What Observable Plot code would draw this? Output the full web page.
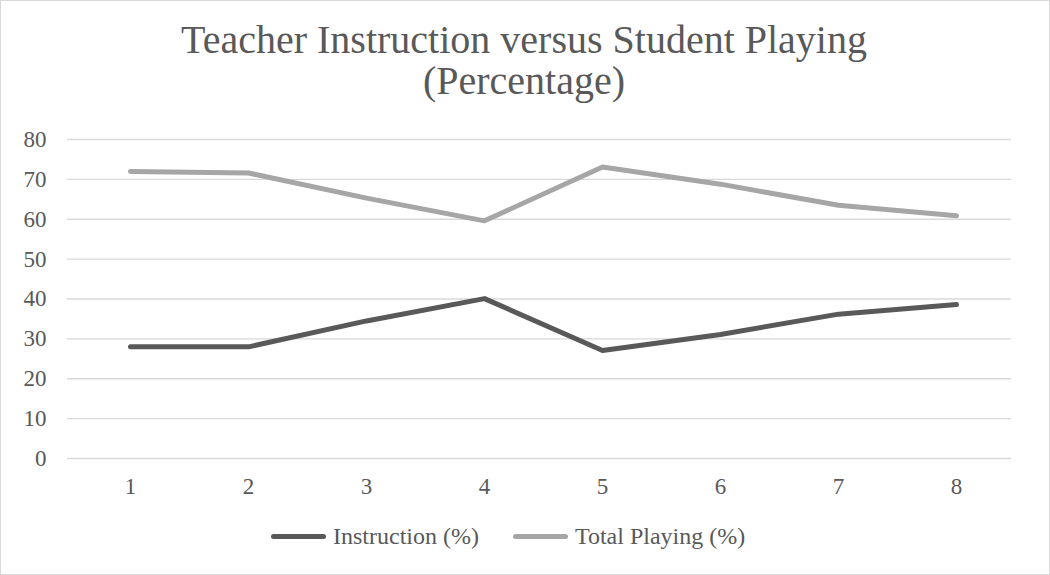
<!DOCTYPE html>
<html>
<head>
<meta charset="utf-8">
<script src="https://cdn.jsdelivr.net/npm/d3@7"></script>
<script src="https://cdn.jsdelivr.net/npm/@observablehq/plot@0.6"></script>
<style>
  html, body { margin: 0; padding: 0; background: #fff; }
  #frame { position: absolute; left: 0; top: 0; width: 1048px; height: 573px; border: 1px solid #d9d9d9; background: #fff; overflow: hidden; }
  #title { position: absolute; left: 0; top: 19px; width: 1046px; text-align: center; font-family: "Liberation Serif", "Times New Roman", serif; font-size: 40px; line-height: 40.7px; color: #595959; }
  #chart { position: absolute; left: 0; top: 118px; }
  #legend { position: absolute; left: 270px; top: 520px; display: flex; gap: 34px; font-family: "Liberation Serif", "Times New Roman", serif; font-size: 24px; line-height: 30px; color: #595959; white-space: nowrap; }
  .item { display: flex; align-items: center; }
  .swatch { width: 55px; height: 5px; border-radius: 3px; margin-right: 7px; }
</style>
</head>
<body>
<div id="frame">
  <div id="title">Teacher Instruction versus Student Playing<br>(Percentage)</div>
  <div id="chart"></div>
  <div id="legend"></div>
</div>
<script>
const sessions = [1, 2, 3, 4, 5, 6, 7, 8];
const instruction = [28.0, 28.0, 34.5, 40.1, 27.1, 31.1, 36.2, 38.6];
const totalPlaying = [72.0, 71.6, 65.3, 59.6, 73.1, 68.8, 63.5, 60.9];
const seriesNames = ["Instruction (%)", "Total Playing (%)"];
const seriesColors = ["#595959", "#a6a6a6"];
const yTicks = [0, 10, 20, 30, 40, 50, 60, 70, 80];

const rows = [];
sessions.forEach((s, i) => {
  rows.push({session: s, value: instruction[i], series: seriesNames[0]});
  rows.push({session: s, value: totalPlaying[i], series: seriesNames[1]});
});

const chart = Plot.plot({
  width: 1048,
  height: 390,
  marginTop: 20,
  marginBottom: 51,
  marginLeft: 66,
  marginRight: 38,
  style: { fontFamily: "'Liberation Serif', 'Times New Roman', serif", fontSize: "23px", color: "#595959", background: "transparent" },
  x: { type: "point", domain: sessions, padding: 0, range: [126, 957], label: null },
  y: { domain: [0, 80], ticks: yTicks, label: null },
  color: { domain: seriesNames, range: seriesColors },
  marks: [
    Plot.ruleY(yTicks, { stroke: "#d9d9d9", strokeWidth: 1.3 }),
    Plot.axisX({ tickSize: 0, tickPadding: 19, fill: "#595959", fontSize: 23 }),
    Plot.axisY({ ticks: yTicks, tickSize: 0, tickPadding: 21, fill: "#595959", fontSize: 23 }),
    Plot.line(rows, { x: "session", y: "value", stroke: "series", z: "series", strokeWidth: 5, strokeLinecap: "round", strokeLinejoin: "round" })
  ]
});
document.getElementById("chart").appendChild(chart);

const legend = document.getElementById("legend");
seriesNames.forEach((name, i) => {
  const item = document.createElement("div");
  item.className = "item";
  const sw = document.createElement("div");
  sw.className = "swatch";
  sw.style.background = seriesColors[i];
  const label = document.createElement("span");
  label.textContent = name;
  item.appendChild(sw);
  item.appendChild(label);
  legend.appendChild(item);
});
</script>
</body>
</html>
